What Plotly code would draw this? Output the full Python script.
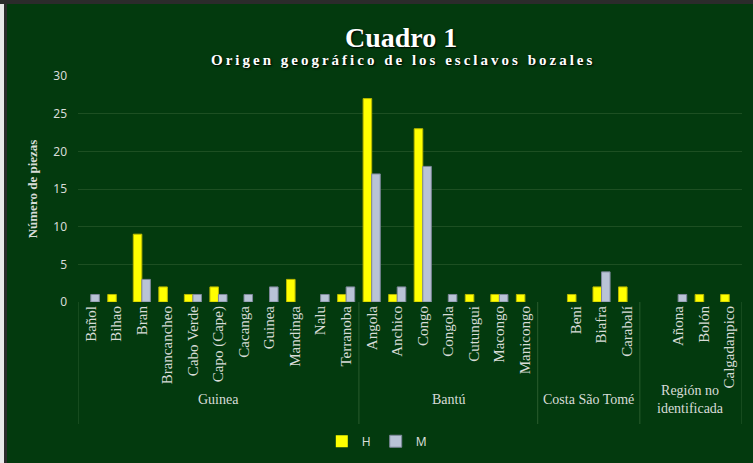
import plotly.graph_objects as go

# ---- data ----
categories = ["Bañol", "Bihao", "Bran", "Brancancheo", "Cabo Verde", "Capo (Cape)",
              "Cacanga", "Guinea", "Mandinga", "Nalu", "Terranoba",
              "Angola", "Anchico", "Congo", "Congola", "Cutungui", "Macongo", "Manicongo",
              "", "Beni", "Biafra", "Carabalí",
              "", "Añona", "Bolón", "Calgadanpico"]
h_values = [0, 1, 9, 2, 1, 2, 0, 0, 3, 0, 1,
            27, 1, 23, 0, 1, 1, 1,
            None, 1, 2, 2,
            None, 0, 1, 1]
m_values = [1, 0, 3, 0, 1, 1, 1, 2, 0, 1, 2,
            17, 2, 18, 1, 0, 1, 0,
            None, 0, 4, 0,
            None, 1, 0, 0]
group_names = ["Guinea", "Bantú", "Costa São Tomé", "Región no<br>identificada"]
group_sizes = [11, 7, 4, 4]
y_ticks = [0, 5, 10, 15, 20, 25, 30]

BG = "#033a0e"
GRID = "#1d4f22"
TXT = "#d8dcd8"

x = list(range(len(categories)))

def edge_widths(vals):
    return [1 if v else 0 for v in vals]

fig = go.Figure()
fig.add_trace(go.Bar(x=x, y=h_values, name="H",
                     marker=dict(color="#ffff00",
                                 line=dict(color="#b8b800", width=edge_widths(h_values)))))
fig.add_trace(go.Bar(x=x, y=m_values, name="M",
                     marker=dict(color="#b9c3d6",
                                 line=dict(color="#7d879a", width=edge_widths(m_values)))))

shapes = []
annotations = []
y_bottom = -0.54
start = 0
for name, size in zip(group_names, group_sizes):
    end = start + size - 1
    shapes.append(dict(type="line", xref="x", yref="paper", x0=start - 0.5, x1=start - 0.5,
                       y0=0, y1=y_bottom, line=dict(color="#2a5c2e", width=1)))
    annotations.append(dict(xref="x", yref="paper", x=(start + end) / 2, y=-0.43,
                            text=name, showarrow=False, yanchor="middle",
                            font=dict(family="Liberation Serif", size=14, color=TXT)))
    start = end + 1
shapes.append(dict(type="line", xref="x", yref="paper", x0=start - 0.5, x1=start - 0.5,
                   y0=0, y1=y_bottom, line=dict(color="#2a5c2e", width=1)))

# frame edges of the original picture
shapes.append(dict(type="rect", xref="paper", yref="paper", x0=-78/664, x1=-71/664,
                   y0=-161/226, y1=76/226 + 1, fillcolor="#2b2b2b", line=dict(width=0), layer="above"))
shapes.append(dict(type="rect", xref="paper", yref="paper", x0=-78/664, x1=-74/664,
                   y0=-161/226, y1=76/226 + 1, fillcolor="#e8e8e8", line=dict(width=0), layer="above"))
shapes.append(dict(type="rect", xref="paper", yref="paper", x0=-78/664, x1=1 + 11/664,
                   y0=1 + 72/226, y1=1 + 76/226, fillcolor="#2b2b2b", line=dict(width=0), layer="above"))

def spaced(s, sep="\u2009"):
    return sep.join(s)

annotations.append(dict(xref="paper", yref="paper", x=0.487, y=1 + 38/226, text="<b>Cuadro 1</b>",
                        showarrow=False, yanchor="middle",
                        font=dict(family="Liberation Serif", size=28, color="#ffffff",
                                  shadow="1px 1px 2px #000000")))
annotations.append(dict(xref="paper", yref="paper", x=0.487, y=1 + 16/226,
                        text="<b>" + spaced("Origen geográfico de los esclavos bozales") + "</b>",
                        showarrow=False, yanchor="middle",
                        font=dict(family="Liberation Serif", size=15, color="#ffffff",
                                  shadow="1px 1px 2px #000000")))

fig.update_layout(
    width=753, height=463,
    margin=dict(l=78, r=11, t=76, b=161, autoexpand=False),
    paper_bgcolor=BG, plot_bgcolor=BG,
    barmode="group", bargap=0.33, bargroupgap=0.0,
    showlegend=True,
    legend=dict(orientation="h", x=0.45, xanchor="center", yref="container", y=0.047,
                yanchor="middle",
                font=dict(family="Noto Sans", size=12, color=TXT), itemwidth=30,
                bgcolor="rgba(0,0,0,0)", traceorder="normal"),
    xaxis=dict(tickmode="array", tickvals=x, ticktext=categories, tickangle=-90,
               range=[-0.5, len(categories) - 0.5], showgrid=False, zeroline=False,
               showline=False, ticks="", automargin=False,
               tickfont=dict(family="Liberation Serif", size=15, color=TXT)),
    yaxis=dict(range=[0, 30], tickvals=y_ticks, showgrid=True, gridcolor=GRID, gridwidth=1,
               zeroline=False, ticks="", ticklabelstandoff=10, automargin=False,
               tickfont=dict(family="Noto Sans", size=12, color=TXT),
               title=dict(text="<b>Número de piezas</b>", standoff=12,
                          font=dict(family="Liberation Serif", size=13, color=TXT))),
    shapes=shapes, annotations=annotations,
)

fig.write_html("out.html", config={"displayModeBar": False},
               post_script="document.body.style.margin='0';")
